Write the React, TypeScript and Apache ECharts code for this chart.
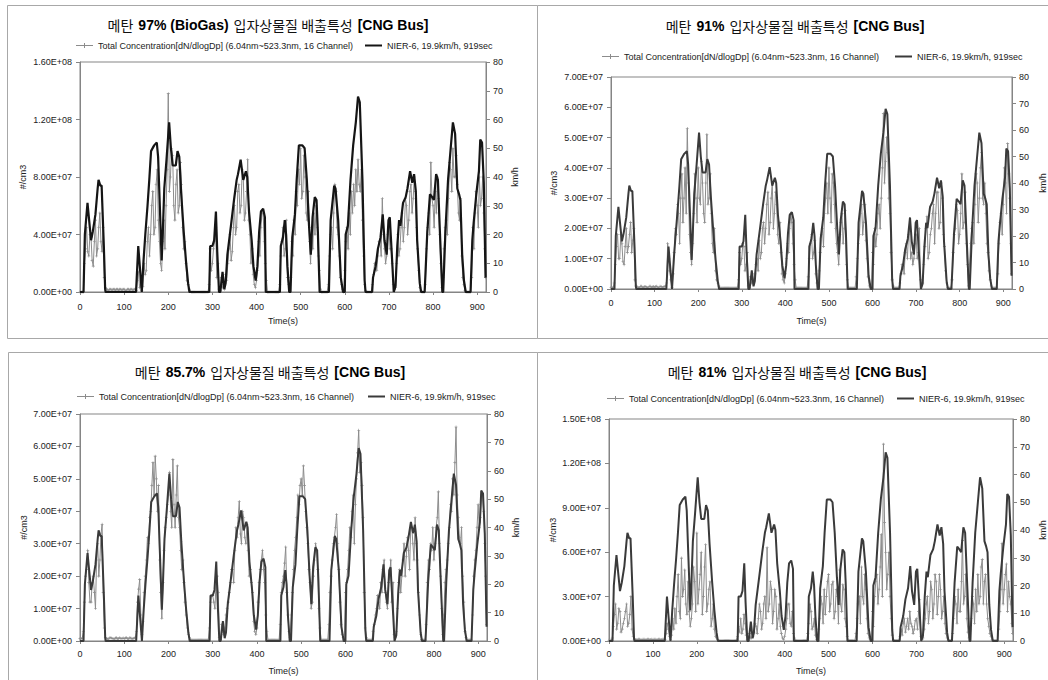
import React, { useEffect, useRef } from 'react';
import * as echarts from 'echarts';

// ---------- data ----------
const TIME_S = [
  0, 5, 10, 15, 20, 25, 30, 35, 40, 45,
  50, 55, 60, 65, 70, 75, 80, 85, 90, 95,
  100, 105, 110, 115, 120, 125, 130, 135, 140, 145,
  150, 155, 160, 165, 170, 175, 180, 185, 190, 195,
  200, 205, 210, 215, 220, 225, 230, 235, 240, 245,
  250, 255, 260, 265, 270, 275, 280, 285, 290, 295,
  300, 305, 310, 315, 320, 325, 330, 335, 340, 345,
  350, 355, 360, 365, 370, 375, 380, 385, 390, 395,
  400, 405, 410, 415, 420, 425, 430, 435, 440, 445,
  450, 455, 460, 465, 470, 475, 480, 485, 490, 495,
  500, 505, 510, 515, 520, 525, 530, 535, 540, 545,
  550, 555, 560, 565, 570, 575, 580, 585, 590, 595,
  600, 605, 610, 615, 620, 625, 630, 635, 640, 645,
  650, 655, 660, 665, 670, 675, 680, 685, 690, 695,
  700, 705, 710, 715, 720, 725, 730, 735, 740, 745,
  750, 755, 760, 765, 770, 775, 780, 785, 790, 795,
  800, 805, 810, 815, 820, 825, 830, 835, 840, 845,
  850, 855, 860, 865, 870, 875, 880, 885, 890, 895,
  900, 905, 910, 915, 919,
];
const TIME_MID_S = [
  2.5, 7.5, 12.5, 17.5, 22.5, 27.5, 32.5, 37.5, 42.5, 47.5,
  52.5, 57.5, 62.5, 67.5, 72.5, 77.5, 82.5, 87.5, 92.5, 97.5,
  102.5, 107.5, 112.5, 117.5, 122.5, 127.5, 132.5, 137.5, 142.5, 147.5,
  152.5, 157.5, 162.5, 167.5, 172.5, 177.5, 182.5, 187.5, 192.5, 197.5,
  202.5, 207.5, 212.5, 217.5, 222.5, 227.5, 232.5, 237.5, 242.5, 247.5,
  252.5, 257.5, 262.5, 267.5, 272.5, 277.5, 282.5, 287.5, 292.5, 297.5,
  302.5, 307.5, 312.5, 317.5, 322.5, 327.5, 332.5, 337.5, 342.5, 347.5,
  352.5, 357.5, 362.5, 367.5, 372.5, 377.5, 382.5, 387.5, 392.5, 397.5,
  402.5, 407.5, 412.5, 417.5, 422.5, 427.5, 432.5, 437.5, 442.5, 447.5,
  452.5, 457.5, 462.5, 467.5, 472.5, 477.5, 482.5, 487.5, 492.5, 497.5,
  502.5, 507.5, 512.5, 517.5, 522.5, 527.5, 532.5, 537.5, 542.5, 547.5,
  552.5, 557.5, 562.5, 567.5, 572.5, 577.5, 582.5, 587.5, 592.5, 597.5,
  602.5, 607.5, 612.5, 617.5, 622.5, 627.5, 632.5, 637.5, 642.5, 647.5,
  652.5, 657.5, 662.5, 667.5, 672.5, 677.5, 682.5, 687.5, 692.5, 697.5,
  702.5, 707.5, 712.5, 717.5, 722.5, 727.5, 732.5, 737.5, 742.5, 747.5,
  752.5, 757.5, 762.5, 767.5, 772.5, 777.5, 782.5, 787.5, 792.5, 797.5,
  802.5, 807.5, 812.5, 817.5, 822.5, 827.5, 832.5, 837.5, 842.5, 847.5,
  852.5, 857.5, 862.5, 867.5, 872.5, 877.5, 882.5, 887.5, 892.5, 897.5,
  902.5, 907.5, 912.5, 917.5,
];

// NIER-6 driving cycle speed (km/h)
const SPEED_T = [
  0, 8, 11, 17, 25, 29, 35, 40, 42, 46, 49, 54, 57, 58,
  127, 132, 136, 140,
  144, 148, 153, 157, 161, 168, 174, 177, 182, 185, 187, 191, 196, 202, 206, 210, 217, 221, 225, 229, 235, 240, 245, 248,
  293, 295, 300, 304, 308, 311, 315,
  318, 323, 327, 330, 334, 342, 349, 355, 358, 364, 370, 376, 379, 383, 389, 393, 398, 402, 406, 410, 415, 419, 421,
  453, 455, 460, 464, 467, 470, 474, 477, 481, 487, 491, 496, 504, 509, 514, 519, 523, 527, 532, 536, 539, 543,
  564, 568, 576, 579, 585, 591, 596,
  600, 602, 607, 613, 619, 625, 630, 634, 640, 645, 647,
  662, 664, 670, 675, 681, 686, 690, 695, 699, 702, 708, 711, 715, 719, 723, 726, 732, 738, 742, 748, 753, 757, 761, 764, 770, 773,
  781, 787, 793, 798, 802, 807, 811, 815, 821,
  823, 828, 834, 840, 845, 850, 855, 859, 862, 866, 870, 874,
  885, 889, 892, 898, 904, 907, 911, 915, 919,
];
const SPEED_KMH = [
  0, 0, 20, 31, 18, 21, 27, 36, 39, 37, 37, 16, 1, 0,
  0, 16, 8, 0,
  11, 20, 30, 39, 49, 51, 52, 47, 25, 11, 18, 36, 46, 59, 50, 44, 44, 49, 47, 35, 21, 11, 3, 0,
  0, 16, 16, 18, 28, 14, 0,
  0, 7, 1, 3, 13, 23, 32, 39, 41, 46, 39, 42, 40, 28, 18, 9, 4, 9, 21, 28, 29, 26, 0,
  0, 16, 19, 25, 20, 9, 0, 0, 19, 27, 39, 51, 51, 50, 39, 23, 13, 26, 33, 32, 21, 0,
  0, 25, 37, 36, 25, 5, 0,
  0, 20, 23, 39, 51, 59, 68, 66, 39, 4, 0,
  0, 5, 9, 15, 19, 27, 18, 13, 25, 26, 9, 0, 2, 16, 25, 23, 31, 33, 36, 42, 38, 41, 35, 18, 3, 0,
  0, 21, 34, 33, 32, 41, 39, 23, 0,
  0, 21, 39, 50, 59, 55, 36, 34, 32, 13, 4, 0,
  0, 18, 24, 34, 42, 53, 52, 38, 5,
];

// Total concentration, in units of 1E+06 #/cm3: *_A sampled on TIME_S, *_B on TIME_MID_S
const CONC_97_A = [
  0, 0, 20, 45, 25, 38, 18, 50, 30, 55,
  28, 10, 2, 1, 2, 2, 1, 2, 2, 1,
  2, 1, 2, 2, 1, 2, 8, 3, 1, 20,
  15, 45, 40, 70, 45, 85, 35, 15, 50, 60,
  138, 80, 95, 50, 85, 60, 75, 30, 20, 5,
  0.5, 0, 0, 0, 0, 0, 0, 0, 0, 30,
  20, 35, 10, 2, 10, 5, 12, 20, 40, 28,
  60, 45, 75, 60, 80, 55, 92, 40, 30, 5,
  8, 35, 45, 55, 20, 0, 0, 0, 0, 0,
  0, 25, 45, 30, 10, 2, 35, 50, 70, 85,
  100, 70, 80, 50, 35, 45, 55, 60, 25, 2,
  0, 0, 0, 25, 45, 55, 70, 40, 10, 2,
  15, 45, 55, 70, 75, 85, 92, 70, 50, 5,
  0, 0, 0, 12, 20, 25, 35, 65, 30, 25,
  45, 30, 5, 3, 40, 30, 55, 45, 60, 50,
  75, 65, 70, 30, 3, 0, 0, 30, 55, 90,
  60, 70, 80, 40, 3, 30, 50, 65, 85, 100,
  80, 75, 50, 25, 5, 0, 0, 0, 45, 55,
  60, 80, 65, 55, 10,
];
const CONC_97_B = [
  0, 0, 30, 28, 40, 22, 35, 25, 45, 35,
  45, 3, 1.5, 2, 1, 2, 2, 1, 2, 2,
  1, 2, 1, 2, 2, 1, 14, 5, 4, 12,
  35, 25, 60, 40, 75, 50, 20, 35, 30, 85,
  70, 100, 60, 75, 55, 90, 45, 35, 8, 2,
  0, 0, 0, 0, 0, 0, 0, 0, 5, 15,
  30, 45, 20, 1, 3, 2, 8, 30, 22, 45,
  40, 70, 55, 85, 50, 70, 50, 20, 12, 3,
  15, 25, 55, 35, 8, 0, 0, 0, 0, 0,
  5, 35, 25, 50, 5, 10, 25, 40, 60, 75,
  65, 95, 55, 70, 20, 30, 40, 45, 15, 0,
  0, 0, 5, 40, 30, 75, 45, 25, 5, 0,
  35, 30, 40, 55, 60, 70, 75, 85, 25, 1,
  0, 0, 5, 20, 15, 35, 25, 40, 20, 40,
  30, 20, 2, 20, 25, 45, 35, 65, 40, 70,
  55, 80, 45, 15, 1, 0, 5, 45, 40, 65,
  45, 55, 65, 20, 10, 45, 40, 90, 70, 80,
  95, 55, 65, 10, 1, 0, 0, 10, 30, 70,
  45, 60, 80, 30,
];
const CONC_91_A = [
  0.5, 0.5, 8, 18, 10, 15, 8, 20, 14, 22,
  16, 3, 0.7, 0.5, 0.9, 0.6, 0.8, 0.5, 0.9, 0.7,
  0.6, 0.9, 0.5, 0.8, 0.7, 0.9, 15, 6, 0.5, 12,
  18, 25, 30, 22, 40, 53, 18, 8, 25, 30,
  40, 28, 35, 22, 51, 30, 25, 12, 6, 2,
  0.3, 0.3, 0.3, 0.3, 0.3, 0.3, 0.3, 0.3, 0.3, 12,
  10, 14, 8, 1, 4, 2, 5, 10, 16, 12,
  22, 20, 32, 22, 35, 25, 28, 15, 12, 3,
  5, 15, 20, 22, 8, 0.3, 0.3, 0.3, 0.3, 0.3,
  0.3, 10, 18, 12, 5, 1, 12, 20, 25, 35,
  40, 22, 35, 20, 12, 18, 25, 20, 8, 0.3,
  0.3, 0.3, 0.3, 10, 18, 28, 22, 16, 4, 0.5,
  12, 20, 18, 28, 30, 58, 42, 45, 25, 3,
  0.3, 0.3, 0.3, 5, 8, 12, 10, 20, 12, 10,
  18, 12, 3, 2, 14, 24, 12, 20, 28, 25,
  32, 22, 30, 14, 2, 0.3, 0.3, 12, 20, 26,
  18, 38, 22, 15, 1, 15, 22, 28, 35, 30,
  45, 28, 25, 12, 3, 0.3, 0.3, 0.3, 15, 25,
  28, 35, 48, 30, 5,
];
const CONC_91_B = [
  0.5, 2, 14, 10, 18, 9, 14, 12, 18, 12,
  20, 1, 0.5, 0.9, 0.6, 0.8, 0.5, 0.9, 0.6, 0.8,
  0.8, 0.6, 0.9, 0.5, 0.8, 2, 10, 3, 5, 20,
  28, 15, 38, 30, 25, 35, 12, 15, 38, 22,
  30, 42, 25, 35, 28, 38, 15, 20, 3, 1,
  0.3, 0.3, 0.3, 0.3, 0.3, 0.3, 0.3, 0.3, 3, 8,
  15, 6, 12, 0.5, 2, 3, 8, 6, 10, 20,
  15, 28, 18, 30, 20, 32, 18, 22, 5, 2,
  10, 12, 25, 15, 3, 0.3, 0.3, 0.3, 0.3, 0.3,
  4, 15, 10, 16, 2, 6, 18, 14, 30, 25,
  30, 38, 28, 15, 8, 22, 15, 26, 3, 0.3,
  0.3, 0.3, 4, 15, 25, 18, 28, 10, 1, 0.5,
  8, 14, 25, 20, 40, 35, 50, 30, 12, 1,
  0.3, 0.3, 2, 8, 5, 15, 18, 10, 8, 15,
  10, 20, 1, 8, 20, 10, 18, 25, 15, 32,
  20, 35, 18, 6, 0.5, 0.3, 3, 18, 28, 15,
  25, 20, 32, 8, 8, 20, 15, 38, 22, 40,
  30, 35, 15, 6, 1, 0.3, 0.3, 5, 22, 18,
  40, 25, 38, 15,
];
const CONC_857_A = [
  0.8, 0.8, 12, 22, 18, 12, 20, 10, 30, 25,
  36, 4, 0.8, 0.6, 1.0, 0.7, 0.9, 0.6, 1.0, 0.8,
  0.7, 1.0, 0.6, 0.9, 0.8, 1.0, 12, 19, 2, 15,
  25, 30, 40, 55, 57, 40, 25, 7, 28, 38,
  45, 40, 56, 35, 54, 35, 22, 18, 8, 2,
  0.3, 0.3, 0.3, 0.3, 0.3, 0.3, 0.3, 0.3, 0.3, 12,
  14, 10, 20, 1, 5, 2, 8, 12, 18, 22,
  28, 32, 43, 30, 38, 30, 28, 22, 15, 3,
  4, 18, 25, 22, 8, 0.3, 0.3, 0.3, 0.3, 0.3,
  0.3, 15, 20, 29, 8, 1, 15, 28, 38, 42,
  50, 54, 40, 30, 18, 12, 25, 28, 10, 0.3,
  0.3, 0.3, 0.3, 15, 25, 32, 39, 22, 5, 1,
  15, 22, 35, 40, 30, 50, 65, 55, 38, 4,
  0.3, 0.3, 0.3, 5, 10, 12, 18, 22, 15, 10,
  20, 12, 2, 3, 18, 15, 25, 20, 32, 22,
  35, 25, 30, 15, 2, 0.3, 0.3, 18, 22, 28,
  25, 35, 46, 20, 2, 18, 25, 35, 40, 45,
  66, 38, 30, 20, 3, 0.3, 0.3, 0.3, 20, 28,
  42, 38, 45, 30, 5,
];
const CONC_857_B = [
  0.8, 3, 20, 28, 12, 18, 15, 25, 20, 33,
  15, 1, 0.6, 1.0, 0.8, 0.6, 1.0, 0.8, 0.7, 0.9,
  0.9, 0.7, 1.0, 0.6, 0.9, 3, 16, 8, 6, 20,
  32, 38, 48, 45, 50, 48, 15, 18, 35, 42,
  52, 35, 42, 45, 38, 28, 25, 12, 4, 1,
  0.3, 0.3, 0.3, 0.3, 0.3, 0.3, 0.3, 0.3, 4, 14,
  12, 18, 15, 0.5, 3, 4, 10, 15, 22, 18,
  35, 38, 33, 40, 32, 36, 20, 18, 6, 2,
  12, 22, 28, 18, 3, 0.3, 0.3, 0.3, 0.3, 0.3,
  5, 18, 24, 15, 3, 8, 22, 32, 45, 48,
  45, 48, 35, 22, 10, 20, 30, 22, 4, 0.3,
  0.3, 0.3, 5, 20, 30, 35, 30, 12, 2, 0.5,
  18, 28, 32, 45, 42, 58, 52, 48, 15, 1,
  0.3, 0.3, 3, 8, 14, 10, 15, 25, 12, 18,
  25, 18, 1, 10, 22, 20, 30, 26, 28, 35,
  30, 38, 25, 8, 0.5, 0.3, 5, 25, 30, 35,
  30, 38, 30, 10, 8, 22, 30, 42, 50, 55,
  45, 32, 35, 12, 1, 0.3, 0.3, 8, 25, 35,
  35, 45, 40, 20,
];
const CONC_81_A = [
  0.5, 0.5, 10, 25, 12, 20, 8, 15, 25, 12,
  30, 3, 1, 0.8, 1.2, 0.9, 1.1, 0.8, 1.2, 1,
  0.9, 1.2, 0.8, 1.1, 1, 1.2, 5, 8, 1, 15,
  22, 30, 20, 56, 35, 25, 40, 10, 25, 40,
  73, 35, 60, 30, 65, 25, 40, 15, 8, 2,
  0.3, 0.3, 0.3, 0.3, 0.3, 0.3, 0.3, 0.3, 0.3, 10,
  15, 8, 12, 1, 5, 2, 6, 10, 15, 20,
  12, 30, 63, 25, 35, 20, 30, 15, 10, 2,
  3, 15, 25, 10, 5, 0.3, 0.3, 0.3, 0.3, 0.3,
  0.3, 12, 20, 10, 4, 1, 15, 25, 35, 30,
  45, 25, 40, 20, 30, 48, 20, 35, 10, 0.3,
  0.3, 0.3, 0.3, 15, 30, 50, 25, 35, 5, 1,
  20, 30, 45, 35, 72, 133, 60, 45, 30, 4,
  0.3, 0.3, 0.3, 8, 12, 6, 15, 20, 10, 8,
  15, 20, 3, 2, 15, 30, 20, 35, 25, 40,
  30, 35, 20, 12, 2, 0.3, 0.3, 15, 25, 35,
  20, 68, 30, 15, 2, 15, 25, 35, 45, 30,
  55, 40, 25, 10, 3, 0.3, 0.3, 0.3, 20, 66,
  35, 52, 40, 25, 5,
];
const CONC_81_B = [
  0.5, 2, 18, 8, 22, 6, 12, 20, 10, 18,
  8, 1, 0.9, 1.2, 0.8, 1.1, 0.9, 1.2, 0.8, 1.1,
  1.1, 0.8, 1.2, 0.9, 1.1, 1, 12, 3, 4, 8,
  12, 45, 15, 30, 48, 18, 20, 15, 50, 20,
  25, 45, 18, 50, 20, 35, 10, 25, 3, 1,
  0.3, 0.3, 0.3, 0.3, 0.3, 0.3, 0.3, 0.3, 3, 6,
  5, 18, 4, 0.5, 2, 3, 12, 5, 25, 8,
  25, 15, 20, 40, 12, 35, 8, 25, 5, 1,
  8, 25, 12, 20, 2, 0.3, 0.3, 0.3, 0.3, 0.3,
  5, 25, 8, 15, 1, 8, 30, 12, 18, 40,
  20, 38, 15, 35, 12, 25, 38, 15, 3, 0.3,
  0.3, 0.3, 5, 25, 12, 30, 45, 15, 2, 0.5,
  10, 40, 25, 50, 30, 80, 35, 60, 15, 1,
  0.3, 0.3, 3, 4, 15, 10, 8, 12, 5, 14,
  8, 28, 1, 8, 25, 12, 40, 15, 45, 18,
  45, 15, 30, 5, 0.5, 0.3, 5, 30, 12, 20,
  40, 25, 45, 6, 8, 30, 12, 20, 25, 50,
  25, 45, 15, 5, 1, 0.3, 0.3, 8, 35, 25,
  45, 20, 30, 12,
];
const CONC_UNIT = 1e6;

const PANEL_TITLES = ['97% (BioGas)', '91%', '85.7%', '81%'];
const PANEL_CONC_A = [CONC_97_A, CONC_91_A, CONC_857_A, CONC_81_A];
const PANEL_CONC_B = [CONC_97_B, CONC_91_B, CONC_857_B, CONC_81_B];
const LEFT_MAX = [1.6e8, 7e7, 7e7, 1.5e8];
const LEFT_STEP = [4e7, 1e7, 1e7, 3e7];
const SPEED_MAX = 80;
const SPEED_STEP = 10;
const TIME_MAX = 920;
const TIME_STEP = 100;
const LEGEND_CONC = 'Total Concentration[dN/dlogDp] (6.04nm~523.3nm, 16 Channel)';
const LEGEND_SPEED = 'NIER-6, 19.9km/h, 919sec';

// ---------- layout ----------
const LAYOUT = [
  { frame: [7, 5, 530, 333], grid: [80, 62, 406, 230], titleX: 268, titleY: 25, legY: 47, leg1: 76, leg2: 365, gapL: 53, gapR: 24, gapX: 24, marginX: 10, speedColor: '#151515', speedWidth: 2.2 },
  { frame: [537, 5, 520, 333], grid: [611, 77, 403, 212], titleX: 795, titleY: 26, legY: 58, leg1: 602, leg2: 895, gapL: 53, gapR: 26, gapX: 27, marginX: 9, speedColor: '#3a3a3a', speedWidth: 2 },
  { frame: [8, 352, 529, 340], grid: [80, 414, 407, 227], titleX: 270, titleY: 372, legY: 398, leg1: 77, leg2: 368, gapL: 52, gapR: 24, gapX: 25, marginX: 8, speedColor: '#3a3a3a', speedWidth: 2 },
  { frame: [537, 352, 520, 340], grid: [609, 419, 404, 222], titleX: 797, titleY: 372, legY: 400, leg1: 607, leg2: 897, gapL: 52, gapR: 25, gapX: 25, marginX: 8, speedColor: '#3a3a3a', speedWidth: 2 },
];

const FONT = 'Liberation Sans, Arial, sans-serif';
const KFONT = 'Noto Sans CJK KR, sans-serif';
const AXIS_COLOR = '#858585';
const TEXT_COLOR = '#222';
const CONC_COLOR = '#8c8c8c';
const PLUS = 'path://M2,0H3V2H5V3H3V5H2V3H0V2H2Z';
const ICON_CONC = 'path://M0,2H8V0H9V2H17V3H9V5H8V3H0Z';
const ICON_SPEED = 'path://M0,0H17V2H0Z';

function sci(v: number): string {
  if (v === 0) return '0.00E+00';
  let e = Math.floor(Math.log10(v));
  let m = v / Math.pow(10, e);
  if (m >= 9.995) { m /= 10; e += 1; }
  if (m < 0.9995) { m *= 10; e -= 1; }
  return m.toFixed(2) + 'E+' + String(e).padStart(2, '0');
}

function buildOption() {
  const grid: any[] = [];
  const xAxis: any[] = [];
  const yAxis: any[] = [];
  const series: any[] = [];
  const title: any[] = [];
  const legend: any[] = [];
  const graphic: any[] = [];

  LAYOUT.forEach((L, i) => {
    graphic.push({
      type: 'rect', z: -10, silent: true,
      shape: { x: L.frame[0] + 0.5, y: L.frame[1] + 0.5, width: L.frame[2], height: L.frame[3] },
      style: { fill: '#fff', stroke: '#a8a8a8', lineWidth: 1 },
    });
    grid.push({
      left: L.grid[0], top: L.grid[1], width: L.grid[2], height: L.grid[3],
      show: true, borderColor: AXIS_COLOR, borderWidth: 1, backgroundColor: 'transparent',
    });
    xAxis.push({
      type: 'value', gridIndex: i, min: 0, max: TIME_MAX, interval: TIME_STEP,
      name: 'Time(s)', nameLocation: 'middle', nameGap: L.gapX,
      nameTextStyle: { fontFamily: FONT, fontSize: 9, color: TEXT_COLOR },
      axisLine: { show: true, lineStyle: { color: AXIS_COLOR, width: 1 } },
      axisTick: { show: true, length: 3, lineStyle: { color: AXIS_COLOR } },
      axisLabel: { fontFamily: FONT, fontSize: 9, color: TEXT_COLOR, margin: L.marginX, showMaxLabel: false },
      splitLine: { show: false },
    });
    yAxis.push({
      type: 'value', gridIndex: i, position: 'left', min: 0, max: LEFT_MAX[i], interval: LEFT_STEP[i],
      name: '#/cm3', nameLocation: 'middle', nameGap: L.gapL, nameRotate: 90,
      nameTextStyle: { fontFamily: FONT, fontSize: 9, color: TEXT_COLOR },
      axisLine: { show: true, lineStyle: { color: AXIS_COLOR, width: 1 } },
      axisTick: { show: true, length: 4, lineStyle: { color: AXIS_COLOR } },
      axisLabel: { fontFamily: FONT, fontSize: 9, color: TEXT_COLOR, margin: 8, formatter: (v: number) => sci(v) },
      splitLine: { show: false },
    });
    yAxis.push({
      type: 'value', gridIndex: i, position: 'right', min: 0, max: SPEED_MAX, interval: SPEED_STEP,
      name: 'km/h', nameLocation: 'middle', nameGap: L.gapR, nameRotate: 90,
      nameTextStyle: { fontFamily: FONT, fontSize: 9, color: TEXT_COLOR },
      axisLine: { show: true, lineStyle: { color: AXIS_COLOR, width: 1 } },
      axisTick: { show: true, length: 4, lineStyle: { color: AXIS_COLOR } },
      axisLabel: { fontFamily: FONT, fontSize: 9, color: TEXT_COLOR, margin: 7 },
      splitLine: { show: false },
    });
    const cName = 'conc' + i;
    const sName = 'speed' + i;
    const concPts = TIME_S.map((t, k) => [t, PANEL_CONC_A[i][k] * CONC_UNIT])
      .concat(TIME_MID_S.map((t, k) => [t, PANEL_CONC_B[i][k] * CONC_UNIT]))
      .sort((a, b) => a[0] - b[0]);
    series.push({
      type: 'line', name: cName, xAxisIndex: i, yAxisIndex: 2 * i,
      data: concPts,
      symbol: PLUS, symbolSize: 3, showSymbol: true,
      lineStyle: { color: CONC_COLOR, width: 1 },
      itemStyle: { color: CONC_COLOR },
      z: 2,
    });
    series.push({
      type: 'line', name: sName, xAxisIndex: i, yAxisIndex: 2 * i + 1,
      data: SPEED_T.map((t, k) => [t, SPEED_KMH[k]]),
      symbol: 'none',
      lineStyle: { color: L.speedColor, width: L.speedWidth },
      itemStyle: { color: L.speedColor },
      z: 3,
    });
    title.push({
      left: L.titleX, top: L.titleY - 9, textAlign: 'center', padding: 0,
      text: `{k|메탄} {b|${PANEL_TITLES[i]}} {k|입자상물질 배출특성} {b|[CNG Bus]}`,
      textStyle: {
        rich: {
          k: { fontFamily: KFONT, fontSize: 14, color: '#111', fontWeight: 'normal' },
          b: { fontFamily: FONT, fontSize: 14, color: '#000', fontWeight: 'bold' },
        },
      },
    });
    const legText = { fontFamily: FONT, fontSize: 9, color: TEXT_COLOR };
    legend.push({
      left: L.leg1, top: L.legY - 6, padding: 0, itemWidth: 17, itemHeight: 5,
      selectedMode: false, textStyle: legText,
      data: [{ name: cName, icon: ICON_CONC }],
      formatter: () => LEGEND_CONC,
    });
    legend.push({
      left: L.leg2, top: L.legY - 6, padding: 0, itemWidth: 17, itemHeight: 2,
      selectedMode: false, textStyle: legText,
      data: [{ name: sName, icon: ICON_SPEED }],
      formatter: () => LEGEND_SPEED,
    });
  });

  return {
    animation: false,
    backgroundColor: '#fff',
    textStyle: { fontFamily: FONT },
    title, legend, grid, xAxis, yAxis, series, graphic,
  };
}

export default function App() {
  const ref = useRef<HTMLDivElement>(null);
  useEffect(() => {
    if (!ref.current) return;
    const chart = echarts.init(ref.current, undefined, { renderer: 'svg' });
    chart.setOption(buildOption() as any);
    return () => chart.dispose();
  }, []);
  return (
    <div
      ref={ref}
      style={{ position: 'absolute', left: 0, top: 0, width: 1048, height: 680, background: '#fff' }}
    />
  );
}
